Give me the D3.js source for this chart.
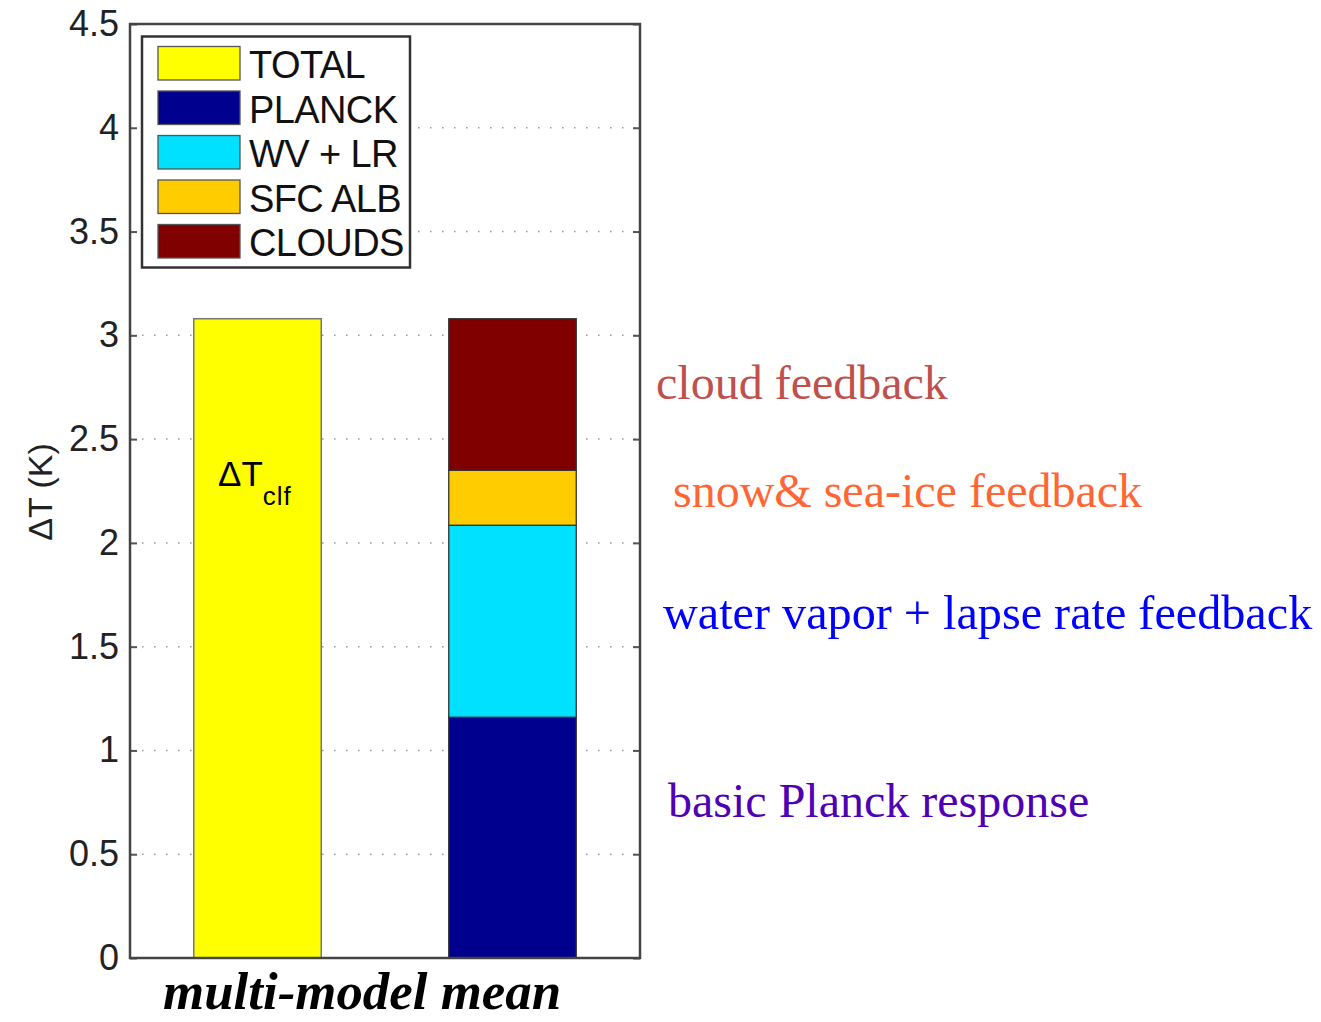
<!DOCTYPE html>
<html><head><meta charset="utf-8">
<script src="https://cdn.jsdelivr.net/npm/d3@7"></script>
<style>html,body{margin:0;padding:0;background:#fff;}</style>
</head><body>
<svg id="chart" width="1321" height="1022"></svg>
<script>
// ---- data ----
const categories = ["TOTAL", "STACKED"];
const totalValue = [3.08];
const seriesNames = ["PLANCK", "WV + LR", "SFC ALB", "CLOUDS"];
const seriesValues = [1.16, 0.925, 0.265, 0.73];
const legendNames = ["TOTAL", "PLANCK", "WV + LR", "SFC ALB", "CLOUDS"];
const legendColors = ["#ffff00", "#00008f", "#00e0ff", "#ffcc00", "#800000"];
const yTicks = [0, 0.5, 1, 1.5, 2, 2.5, 3, 3.5, 4, 4.5];
const annotations = ["cloud feedback", "snow& sea-ice feedback", "water vapor + lapse rate feedback", "basic Planck response"];
const annotationColors = ["#c0504d", "#ff6633", "#0000ff", "#5000b4"];

// ---- layout ----
const svg = d3.select("#chart");
const L = 130, R = 640, T = 24, B = 958;
const y = d3.scaleLinear().domain([0, 4.5]).range([B, T]);
const x = d3.scaleBand().domain(categories).range([L, R]).paddingInner(0.5).paddingOuter(0.25);

// grid
svg.append("g").selectAll("line").data(yTicks.filter(d => d > 0 && d < 4.5)).join("line")
  .attr("x1", L).attr("x2", R).attr("y1", d => y(d)).attr("y2", d => y(d))
  .attr("stroke", "#999").attr("stroke-width", 1.5).attr("stroke-dasharray", "1.5,10.5");

// total bar
svg.append("rect")
  .attr("x", x("TOTAL")).attr("width", x.bandwidth())
  .attr("y", y(totalValue[0])).attr("height", y(0) - y(totalValue[0]))
  .attr("fill", legendColors[0]).attr("stroke", "#777").attr("stroke-width", 1.5);

// stacked bar
let cum = 0;
const stack = seriesValues.map((v, i) => { const s = {y0: cum, y1: cum + v, c: legendColors[i + 1]}; cum += v; return s; });
svg.append("g").selectAll("rect").data(stack).join("rect")
  .attr("x", x("STACKED")).attr("width", x.bandwidth())
  .attr("y", d => y(d.y1)).attr("height", d => y(d.y0) - y(d.y1))
  .attr("fill", d => d.c).attr("stroke", "#333").attr("stroke-width", 1.3);

// axes
const axL = d3.axisLeft(y).tickValues(yTicks).tickSize(-7).tickPadding(11).tickFormat(d3.format("~g"));
const gL = svg.append("g").attr("transform", `translate(${L},0)`).call(axL);
gL.select(".domain").remove();
gL.selectAll("line").attr("stroke", "#555").attr("stroke-width", 2);
gL.selectAll("text").attr("font-family", "Liberation Sans, Arial, sans-serif").attr("font-size", 36).attr("fill", "#222");
const axR = d3.axisRight(y).tickValues(yTicks).tickSize(-7).tickFormat("");
const gR = svg.append("g").attr("transform", `translate(${R},0)`).call(axR);
gR.select(".domain").remove();
gR.selectAll("line").attr("stroke", "#555").attr("stroke-width", 2);

// frame
svg.append("rect").attr("x", L).attr("y", T).attr("width", R - L).attr("height", B - T)
  .attr("fill", "none").attr("stroke", "#444").attr("stroke-width", 2.5);

// y label
svg.append("text").attr("transform", `translate(52,${(441 + 543) / 2}) rotate(-90)`)
  .attr("text-anchor", "middle").attr("font-family", "Liberation Sans, Arial, sans-serif")
  .attr("font-size", 34).attr("fill", "#222").text("ΔT (K)");

// ΔT_clf
const dt = svg.append("text").attr("x", 218).attr("y", 486)
  .attr("font-family", "Liberation Sans, Arial, sans-serif").attr("font-size", 35).attr("fill", "#000");
dt.append("tspan").text("ΔT");
dt.append("tspan").attr("dy", 19).attr("font-size", 26).attr("letter-spacing", 1).text("clf");

// legend
const lg = svg.append("g");
lg.append("rect").attr("x", 142).attr("y", 36.5).attr("width", 268).attr("height", 231)
  .attr("fill", "#fff").attr("stroke", "#333").attr("stroke-width", 2.5);
const legIdx = d3.scaleLinear().domain([0, 4]).range([46.5, 224.5]);
lg.selectAll("rect.sw").data(legendNames).join("rect").attr("class", "sw")
  .attr("x", 158).attr("width", 82).attr("y", (d, i) => legIdx(i)).attr("height", 33.5)
  .attr("fill", (d, i) => legendColors[i]).attr("stroke", "#555").attr("stroke-width", 1.3);
lg.selectAll("text").data(legendNames).join("text")
  .attr("x", 249).attr("y", (d, i) => legIdx(i) + 31.5)
  .attr("font-family", "Liberation Sans, Arial, sans-serif").attr("font-size", 38).attr("fill", "#111")
  .attr("letter-spacing", -0.6)
  .text(d => d);

// bottom label
const bl = svg.append("text").attr("x", 163).attr("y", 1009)
  .attr("font-family", "Liberation Serif, Times New Roman, serif").attr("font-style", "italic").attr("font-weight", "bold")
  .attr("font-size", 46).attr("fill", "#000").text("multi-model mean");
(function(){
  const w = bl.node().getComputedTextLength();
  bl.attr("font-size", (46 * 398 / w).toFixed(1));
})();

// annotations
const annX = [656, 673, 663, 668];
const annY = [399, 507, 629, 817];
const annW = [292, 469, 649, 421];
svg.append("g").selectAll("text").data(annotations).join("text")
  .attr("x", (d, i) => annX[i]).attr("y", (d, i) => annY[i])
  .attr("font-family", "Liberation Serif, Times New Roman, serif").attr("font-size", 46)
  .attr("fill", (d, i) => annotationColors[i]).text(d => d)
  .each(function(d, i) {
    const w = this.getComputedTextLength();
    this.setAttribute("font-size", (46 * annW[i] / w).toFixed(1));
  });
</script>
</body></html>
